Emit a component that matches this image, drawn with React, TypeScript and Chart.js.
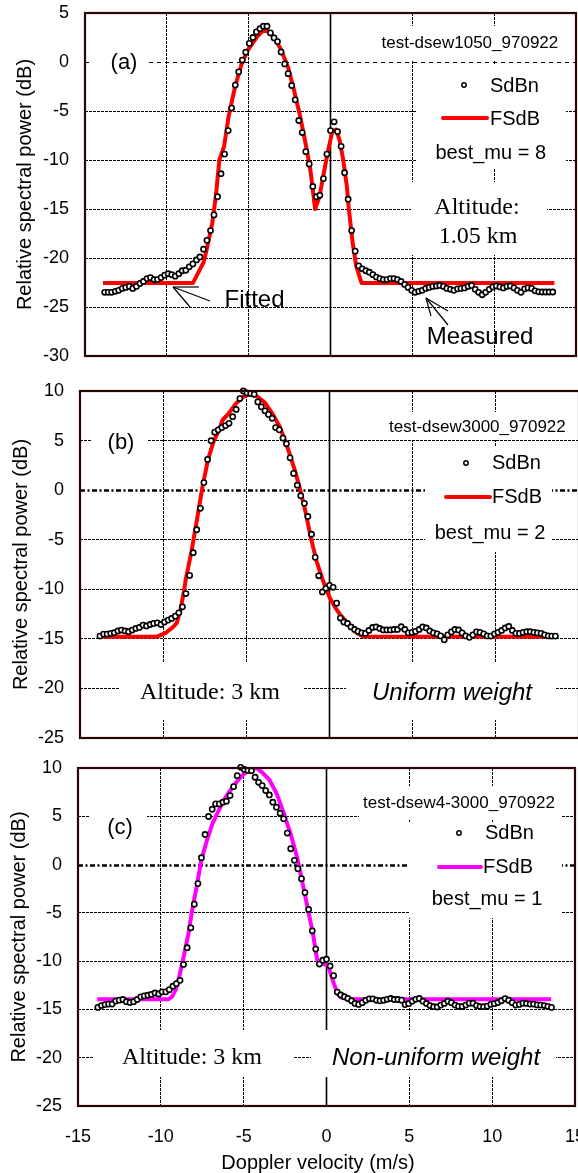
import React, { useEffect, useRef } from "react";
import { Chart, registerables } from "chart.js";

Chart.register(...registerables);

const SANS = '"Liberation Sans", Arial, Helvetica, sans-serif';
const SERIF = '"Liberation Serif", "Times New Roman", serif';

// Doppler velocity grid of the measured spectra (m/s)
const velocity = [
  -13.8, -13.58, -13.37, -13.15, -12.94, -12.72, -12.51, -12.29, -12.08, -11.86,
  -11.64, -11.43, -11.21, -11.0, -10.78, -10.57, -10.35, -10.13, -9.92, -9.7,
  -9.49, -9.27, -9.06, -8.84, -8.63, -8.41, -8.19, -7.98, -7.76, -7.55,
  -7.33, -7.12, -6.9, -6.69, -6.47, -6.25, -6.04, -5.82, -5.61, -5.39,
  -5.18, -4.96, -4.74, -4.53, -4.31, -4.1, -3.88, -3.67, -3.45, -3.24,
  -3.02, -2.8, -2.59, -2.37, -2.16, -1.94, -1.73, -1.51, -1.3, -1.08,
  -0.86, -0.65, -0.43, -0.22, 0.0, 0.22, 0.43, 0.65, 0.86, 1.08,
  1.29, 1.51, 1.72, 1.94, 2.16, 2.37, 2.59, 2.8, 3.02, 3.23,
  3.45, 3.66, 3.88, 4.09, 4.31, 4.53, 4.74, 4.96, 5.17, 5.39,
  5.6, 5.82, 6.03, 6.25, 6.47, 6.68, 6.9, 7.11, 7.33, 7.54,
  7.76, 7.97, 8.19, 8.41, 8.62, 8.84, 9.05, 9.27, 9.48, 9.7,
  9.92, 10.13, 10.35, 10.56, 10.78, 10.99, 11.21, 11.42, 11.64, 11.86,
  12.07, 12.29, 12.5, 12.72, 12.93, 13.15, 13.36, 13.58,
];

// (a) measured SdBn
const measuredA = [
  -23.5, -23.5, -23.5, -23.4, -23.3, -23.1, -23.0, -22.9, -23.1, -22.9,
  -22.6, -22.4, -22.1, -22.0, -22.2, -22.2, -22.0, -21.75, -21.6, -21.7,
  -21.85, -21.6, -21.3, -21.25, -20.9, -20.6, -20.2, -19.9, -19.1, -18.2,
  -17.2, -15.6, -13.75, -11.4, -9.4, -7.0, -4.7, -2.35, -1.0, 0.2,
  1.0, 1.9, 2.5, 3.07, 3.4, 3.65, 3.65, 2.97, 2.46, 2.08,
  1.02, -0.2, -1.19, -2.4, -3.86, -5.97, -7.2, -9.15, -10.4, -12.7,
  -13.75, -13.6, -11.9, -9.4, -7.0, -6.1, -7.1, -8.6, -11.3, -14.0,
  -17.2, -19.3, -20.8, -21.1, -21.3, -21.45, -21.7, -21.95, -22.1, -22.2,
  -22.2, -22.1, -22.1, -22.2, -22.4, -22.7, -23.0, -23.3, -23.5, -23.4,
  -23.3, -23.1, -23.0, -22.9, -22.85, -22.8, -22.9, -23.1, -23.2, -23.3,
  -23.15, -23.1, -23.05, -22.9, -22.8, -23.2, -23.5, -23.75, -23.5, -23.2,
  -22.95, -22.85, -22.95, -23.05, -22.9, -22.85, -23.05, -23.3, -23.5, -23.15,
  -23.05, -23.1, -23.35, -23.45, -23.47, -23.47, -23.47, -23.47,
];
// (a) fitted FSdB
const fitVelA = [
  -13.9, -8.41, -7.74, -7.51, -7.22, -7.0, -6.79, -6.5, -6.23, -5.83,
  -5.45, -5.02, -4.48, -4.15, -3.86, -3.48, -3.03, -2.58, -2.24, -1.9,
  -1.57, -1.23, -0.94, -0.67, -0.45, -0.18, 0.11, 0.34, 0.56, 0.78,
  1.0, 1.12, 1.35, 1.57, 1.9, 13.68,
];
const fittedA = [
  -22.56, -22.56, -20.4, -18.7, -16.4, -13.6, -10.0, -8.6, -5.6, -2.5,
  -0.3, 1.3, 2.6, 3.15, 3.2, 2.6, 1.3, -0.6, -2.8, -5.2,
  -7.9, -11.0, -15.0, -13.7, -11.7, -9.3, -7.1, -6.9, -8.0, -10.0,
  -12.7, -15.0, -18.4, -20.8, -22.56, -22.56,
];

// (b) measured SdBn
const measuredB = [
  -14.72, -14.52, -14.52, -14.45, -14.38, -14.2, -14.11, -14.2, -14.28, -14.11,
  -13.95, -13.85, -13.61, -13.7, -13.55, -13.44, -13.38, -13.55, -13.3, -13.11,
  -12.94, -12.71, -12.37, -11.77, -10.43, -8.6, -6.31, -3.99, -1.83, 0.76,
  3.09, 4.98, 5.85, 6.08, 6.31, 6.51, 6.74, 7.41, 8.14, 9.24,
  10.0, 9.8, 9.75, 9.67, 8.9, 8.4, 8.0, 7.64, 7.24, 6.31,
  6.08, 5.25, 4.68, 3.26, 1.69, 0.5, -0.56, -1.33, -2.66, -4.45,
  -6.78, -8.64, -10.27, -9.9, -9.6, -9.8, -11.4, -12.9, -13.3, -13.45,
  -13.8, -14.05, -14.25, -14.4, -14.45, -14.15, -13.85, -13.8, -13.95, -14.1,
  -14.1, -14.1, -14.05, -14.05, -13.78, -14.05, -14.4, -14.35, -14.25, -14.05,
  -13.8, -13.9, -14.2, -14.4, -14.5, -14.7, -15.1, -14.6, -14.3, -14.05,
  -14.1, -14.4, -14.7, -14.85, -14.6, -14.3, -14.35, -14.5, -14.7, -14.72,
  -14.5, -14.35, -14.15, -13.9, -13.75, -14.15, -14.45, -14.45, -14.35, -14.28,
  -14.28, -14.35, -14.4, -14.45, -14.6, -14.7, -14.72, -14.72,
];
// (b) fitted FSdB
const fitVelB = [
  -13.9, -10.4, -9.85, -9.4, -9.18, -8.96, -8.74, -8.63, -8.3, -7.96,
  -7.63, -7.3, -6.97, -6.64, -6.42, -6.08, -5.64, -5.2, -4.76, -4.31,
  -3.87, -3.43, -2.99, -2.54, -2.1, -1.77, -1.44, -1.11, -0.77, -0.44,
  -0.33, 0.0, 0.33, 0.66, 1.1, 1.55, 1.99, 13.6,
];
const fittedB = [
  -14.8, -14.8, -14.4, -13.8, -13.4, -12.1, -10.1, -8.9, -6.2, -2.9,
  0.4, 3.1, 4.9, 6.1, 7.1, 7.7, 8.7, 9.4, 9.7, 9.4,
  8.8, 7.7, 6.4, 4.4, 2.1, 0.1, -2.2, -4.9, -7.2, -8.9,
  -9.4, -10.8, -11.8, -12.6, -13.4, -14.3, -14.75, -14.8,
];

// (c) measured SdBn
const measuredC = [
  -14.79, -14.6, -14.5, -14.45, -14.45, -14.14, -14.04, -13.97, -14.2, -14.28,
  -14.2, -13.97, -13.7, -13.6, -13.53, -13.45, -13.3, -13.4, -13.18, -13.18,
  -12.95, -12.6, -12.33, -11.99, -10.34, -8.61, -6.55, -4.1, -1.97, 0.71,
  3.12, 4.98, 5.73, 6.28, 6.28, 6.46, 6.56, 7.14, 8.07, 9.21,
  10.07, 9.85, 9.75, 9.72, 9.04, 8.52, 8.18, 7.66, 7.21, 6.46,
  5.94, 5.32, 4.74, 3.26, 1.64, 0.44, -0.42, -1.46, -2.9, -4.65,
  -6.86, -8.75, -10.3, -9.9, -9.8, -10.5, -11.5, -13.2, -13.5, -13.68,
  -13.87, -14.1, -14.38, -14.48, -14.3, -14.05, -13.9, -13.9, -14.05, -14.11,
  -14.05, -13.95, -13.87, -13.97, -13.97, -14.04, -14.5, -14.4, -14.15, -13.95,
  -13.87, -14.15, -14.38, -14.6, -14.72, -14.75, -14.55, -14.38, -14.15, -14.3,
  -14.55, -14.68, -14.7, -14.55, -14.35, -14.36, -14.6, -14.7, -14.72, -14.66,
  -14.48, -14.4, -14.28, -14.1, -13.88, -14.05, -14.3, -14.55, -14.48, -14.35,
  -14.38, -14.45, -14.45, -14.53, -14.55, -14.6, -14.68, -14.79,
];
// (c) fitted FSdB
const fitVelC = [
  -13.84, -9.56, -9.33, -9.11, -8.89, -8.67, -8.33, -8.11, -7.84, -7.56,
  -7.22, -6.89, -6.56, -6.22, -5.89, -5.44, -5.0, -4.56, -4.22, -3.89,
  -3.44, -3.0, -2.56, -2.11, -1.78, -1.44, -1.11, -0.82, -0.56, -0.22,
  0.1, 0.44, 0.67, 0.89, 1.22, 13.56,
];
const fittedC = [
  -13.94, -13.94, -13.7, -13.0, -11.64, -9.93, -7.13, -4.72, -2.32, 0.44,
  2.5, 4.22, 5.42, 6.63, 7.49, 8.52, 9.38, 9.9, 10.0, 9.55,
  8.76, 7.32, 5.25, 2.84, 0.78, -1.97, -4.72, -7.13, -9.88, -10.27,
  -10.5, -12.3, -13.36, -13.77, -13.94, -13.94,
];

const xMin = -15;
const xMax = 15;
const tickStep = 5;
const yTitle = "Relative spectral power (dB)";
const xTitle = "Doppler velocity (m/s)";
const seriesNames = ["SdBn", "FSdB"];

type Rect = [number, number, number, number];
type Label = { text: string; x: number; y: number; font: string; align?: CanvasTextAlign; clip?: number };
interface PanelSpec {
  key: string;
  top: number;
  height: number;
  area: { left: number; top: number; right: number; bottom: number };
  yMin: number;
  yMax: number;
  measured: number[];
  fitV: number[];
  fitY: number[];
  fitColor: string;
  zeroStyle: "dash" | "dashdot";
  showX: boolean;
  titlePad: number;
  boxes: Rect[];
  labels: Label[];
  segs: Rect[];
  legend: { mx: number; my: number; lx0: number; lx1: number; ly: number };
}

const CW = 620;
const F = (size: number, fam = SANS, style = "") => `${style}${size}px ${fam}`;

const panels: PanelSpec[] = [
  {
    key: "a",
    top: -20,
    height: 410,
    area: { left: 85, top: 13, right: 576, bottom: 356 },
    yMin: -30,
    yMax: 5,
    measured: measuredA,
    fitV: fitVelA,
    fitY: fittedA,
    fitColor: "#ff0000",
    zeroStyle: "dash",
    showX: false,
    titlePad: 13,
    boxes: [
      [92, 50, 148, 76],
      [378, 26, 566, 60],
      [416, 64, 566, 168],
      [411, 182, 547, 255],
    ],
    labels: [
      { text: "(a)", x: 124, y: 63, font: F(22) },
      { text: "test-dsew1050_970922", x: 381.5, y: 43, font: F(17), align: "left" },
      { text: seriesNames[0], x: 490, y: 86, font: F(20), align: "left" },
      { text: seriesNames[1], x: 490, y: 119, font: F(20), align: "left" },
      { text: "best_mu = 8", x: 490.7, y: 153, font: F(20) },
      { text: "Altitude:", x: 477, y: 208, font: F(24, SERIF) },
      { text: "1.05 km", x: 478, y: 237, font: F(24, SERIF) },
      { text: "Fitted", x: 254.5, y: 300, font: F(24) },
      { text: "Measured", x: 480, y: 337, font: F(24) },
    ],
    segs: [
      [173, 287, 199, 287],
      [173, 287, 210, 301],
      [173, 287, 190, 307],
      [426, 298, 448, 311],
      [426, 298, 448, 325],
      [426, 298, 431, 316],
    ],
    legend: { mx: 464, my: 85, lx0: 443, lx1: 487, ly: 118 },
  },
  {
    key: "b",
    top: 360,
    height: 410,
    area: { left: 80, top: 391, right: 579, bottom: 738 },
    yMin: -25,
    yMax: 10,
    measured: measuredB,
    fitV: fitVelB,
    fitY: fittedB,
    fitColor: "#ff0000",
    zeroStyle: "dashdot",
    showX: false,
    titlePad: 9,
    boxes: [
      [92, 430, 147, 456],
      [340, 412, 570, 440],
      [425, 447, 552, 552],
      [120, 663, 304, 720],
      [346, 663, 556, 720],
    ],
    labels: [
      { text: "(b)", x: 121, y: 443, font: F(22) },
      { text: "test-dsew3000_970922", x: 389, y: 427, font: F(17), align: "left" },
      { text: seriesNames[0], x: 492, y: 463, font: F(20), align: "left" },
      { text: seriesNames[1], x: 492, y: 497, font: F(20), align: "left" },
      { text: "best_mu = 2", x: 490, y: 533, font: F(20) },
      { text: "Altitude: 3 km", x: 210, y: 693, font: F(24, SERIF) },
      { text: "Uniform weight", x: 452, y: 693, font: F(24, SANS, "italic ") },
    ],
    segs: [],
    legend: { mx: 466, my: 463, lx0: 446, lx1: 490, ly: 497 },
  },
  {
    key: "c",
    top: 735,
    height: 440,
    area: { left: 78, top: 768, right: 575, bottom: 1106 },
    yMin: -25,
    yMax: 10,
    measured: measuredC,
    fitV: fitVelC,
    fitY: fittedC,
    fitColor: "#ff00ff",
    zeroStyle: "dashdot",
    showX: true,
    titlePad: 7,
    boxes: [
      [90, 815, 147, 841],
      [359, 786, 562, 819],
      [409, 822, 562, 918],
      [94, 1030, 293, 1077],
      [311, 1030, 556, 1077],
    ],
    labels: [
      { text: "(c)", x: 120, y: 828, font: F(22) },
      { text: "test-dsew4-3000_970922", x: 363, y: 803, font: F(17), align: "left" },
      { text: seriesNames[0], x: 485, y: 833, font: F(20), align: "left" },
      { text: seriesNames[1], x: 483, y: 867, font: F(20), align: "left" },
      { text: "best_mu = 1", x: 487, y: 899, font: F(20) },
      { text: "Altitude: 3 km", x: 192, y: 1058, font: F(24, SERIF) },
      { text: "Non-uniform weight", x: 332, y: 1058, font: F(24, SANS, "italic "), align: "left", clip: 541 },
    ],
    segs: [],
    legend: { mx: 459, my: 833, lx0: 439, lx1: 481, ly: 867 },
  },
];

function makeDecor(p: PanelSpec) {
  return {
    id: "decor",
    beforeDatasetsDraw(chart: any) {
      const { ctx, chartArea: ca, scales } = chart;
      const off = p.top;
      ctx.save();
      const y0 = Math.round(scales.y.getPixelForValue(0)) + 0.5;
      const x0 = scales.x.getPixelForValue(0);
      ctx.strokeStyle = "#000";
      if (p.zeroStyle === "dash") {
        ctx.lineWidth = 1;
        ctx.setLineDash([4, 4]);
      } else {
        ctx.lineWidth = 2.5;
        ctx.setLineDash([5, 2.5, 2, 2.5]);
      }
      ctx.beginPath();
      ctx.moveTo(ca.left, y0);
      ctx.lineTo(ca.right, y0);
      ctx.stroke();
      ctx.setLineDash([]);
      ctx.lineWidth = 1.6;
      ctx.beginPath();
      ctx.moveTo(x0, ca.top);
      ctx.lineTo(x0, ca.bottom);
      ctx.stroke();

      ctx.fillStyle = "#fff";
      p.boxes.forEach(([a, b, c, d]) => ctx.fillRect(a, b - off, c - a, d - b));

      ctx.fillStyle = "#000";
      ctx.textBaseline = "middle";
      p.labels.forEach((l) => {
        ctx.save();
        if (l.clip) {
          ctx.beginPath();
          ctx.rect(0, 0, l.clip, chart.height);
          ctx.clip();
        }
        ctx.font = l.font;
        ctx.textAlign = l.align || "center";
        ctx.fillText(l.text, l.x, l.y - off);
        ctx.restore();
      });

      ctx.strokeStyle = "#000";
      ctx.lineWidth = 1.2;
      p.segs.forEach(([a, b, c, d]) => {
        ctx.beginPath();
        ctx.moveTo(a, b - off);
        ctx.lineTo(c, d - off);
        ctx.stroke();
      });

      const lg = p.legend;
      ctx.strokeStyle = p.fitColor;
      ctx.lineWidth = 4;
      ctx.lineCap = "round";
      ctx.beginPath();
      ctx.moveTo(lg.lx0, lg.ly - off);
      ctx.lineTo(lg.lx1, lg.ly - off);
      ctx.stroke();
      ctx.lineCap = "butt";
      ctx.strokeStyle = "#000";
      ctx.lineWidth = 1.5;
      ctx.fillStyle = "#fff";
      ctx.beginPath();
      ctx.arc(lg.mx, lg.my - off, 2.2, 0, Math.PI * 2);
      ctx.fill();
      ctx.stroke();
      ctx.restore();
    },
    afterDraw(chart: any) {
      const { ctx, chartArea: ca } = chart;
      ctx.save();
      ctx.strokeStyle = "#2a0404";
      ctx.lineWidth = 2.2;
      ctx.strokeRect(ca.left, ca.top, ca.right - ca.left, ca.bottom - ca.top);
      if (p.showX) {
        ctx.fillStyle = "#000";
        ctx.font = F(20);
        ctx.textAlign = "center";
        ctx.textBaseline = "middle";
        ctx.fillText(xTitle, 318, 1163 - p.top);
      }
      ctx.restore();
    },
  };
}

function buildConfig(p: PanelSpec): any {
  const padTop = p.area.top - p.top;
  const padRight = CW - p.area.right;
  const xAxisH = p.top + p.height - p.area.bottom;
  const gridColor = (c: any) => (c.tick && c.tick.value === 0 ? "rgba(0,0,0,0)" : "#000");
  const grid = { color: gridColor, lineWidth: 1, drawTicks: false };
  const border = { display: false, dash: [3, 1] };
  return {
    type: "scatter",
    data: {
      datasets: [
        {
          label: seriesNames[0],
          data: velocity.map((v, i) => ({ x: v, y: p.measured[i] })),
          showLine: false,
          pointStyle: "circle",
          pointRadius: 2.6,
          pointBorderWidth: 1.6,
          pointBorderColor: "#000",
          pointBackgroundColor: "#fff",
          clip: false,
        },
        {
          label: seriesNames[1],
          data: p.fitV.map((v, i) => ({ x: v, y: p.fitY[i] })),
          showLine: true,
          borderColor: p.fitColor,
          backgroundColor: p.fitColor,
          borderWidth: 4,
          pointRadius: 0,
          tension: 0,
          fill: false,
          borderJoinStyle: "round",
        },
      ],
    },
    options: {
      responsive: false,
      animation: false,
      devicePixelRatio: 1,
      events: [],
      layout: { padding: { top: padTop, right: padRight, bottom: 0, left: 0 } },
      plugins: { legend: { display: false }, tooltip: { enabled: false } },
      scales: {
        x: {
          type: "linear",
          min: xMin,
          max: xMax,
          ticks: {
            stepSize: tickStep,
            display: p.showX,
            color: "#000",
            font: { family: SANS, size: 18 },
            padding: 20,
            maxRotation: 0,
            autoSkip: false,
          },
          grid,
          border,
          afterFit: (s: any) => {
            s.height = xAxisH;
          },
        },
        y: {
          type: "linear",
          min: p.yMin,
          max: p.yMax,
          ticks: { stepSize: tickStep, color: "#000", font: { family: SANS, size: 18 }, padding: 16 },
          grid,
          border,
          title: {
            display: true,
            text: yTitle,
            color: "#000",
            font: { family: SANS, size: 20 },
            padding: { top: p.titlePad, bottom: 0 },
          },
          afterFit: (s: any) => {
            s.width = p.area.left;
          },
        },
      },
    },
    plugins: [makeDecor(p)],
  };
}

function Panel({ spec }: { spec: PanelSpec }) {
  const ref = useRef<HTMLCanvasElement>(null);
  useEffect(() => {
    const chart = new Chart(ref.current as HTMLCanvasElement, buildConfig(spec));
    return () => chart.destroy();
  }, [spec]);
  return (
    <canvas
      ref={ref}
      width={CW}
      height={spec.height}
      style={{ position: "absolute", left: 0, top: spec.top, width: CW, height: spec.height, display: "block" }}
    />
  );
}

export default function App() {
  return (
    <div
      style={{
        position: "absolute",
        left: 0,
        top: 0,
        width: 578,
        height: 1173,
        overflow: "hidden",
        background: "#fff",
      }}
    >
      {panels.map((p) => (
        <Panel key={p.key} spec={p} />
      ))}
    </div>
  );
}
